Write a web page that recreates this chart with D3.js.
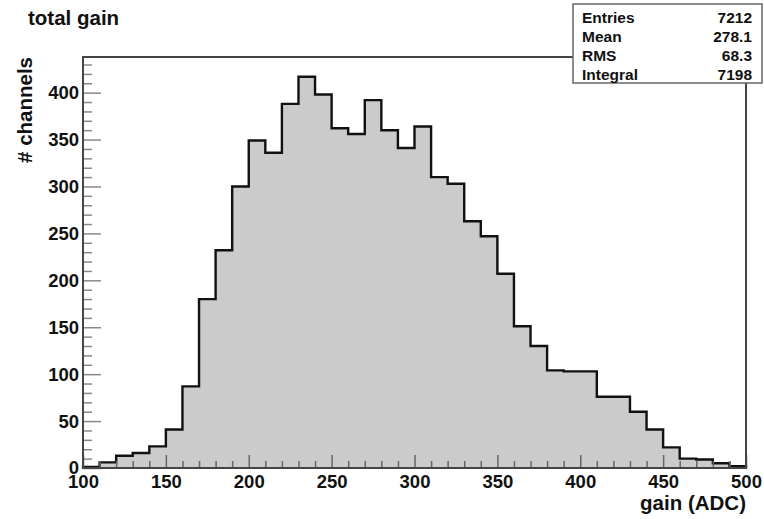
<!DOCTYPE html>
<html>
<head>
<meta charset="utf-8">
<script src="https://cdn.jsdelivr.net/npm/d3@7"></script>
<style>
  html, body { margin: 0; padding: 0; background: #fff; }
  svg { display: block; font-family: "Liberation Sans", Arial, Helvetica, sans-serif; font-weight: bold; }
</style>
</head>
<body>
<svg id="chart" width="764" height="519"></svg>
<script>
// Histogram of total gain per channel: 40 bins of width 10 ADC from 100 to 500
const binLow = 100;
const binWidth = 10;
const counts = [
  1, 6, 13, 16, 23, 41, 87, 180, 232, 300,
  349, 336, 388, 417, 398, 362, 356, 392, 360, 341,
  364, 310, 303, 263, 247, 207, 151, 130, 104, 103,
  103, 76, 76, 60, 41, 22, 10, 9, 5, 2
];
const xTicks = [100, 150, 200, 250, 300, 350, 400, 450, 500];
const yTicks = [0, 50, 100, 150, 200, 250, 300, 350, 400];
const statLabels = ["Entries", "Mean", "RMS", "Integral"];
const statValues = ["7212", "278.1", "68.3", "7198"];

const svg = d3.select("#chart");
const frame = { left: 83, right: 746, top: 57, bottom: 468 };

const x = d3.scaleLinear().domain([100, 500]).range([frame.left, frame.right]);
const y = d3.scaleLinear().domain([0, 438]).range([frame.bottom, frame.top]);

// step outline of the histogram
const pts = [[binLow, 0]];
counts.forEach((c, i) => {
  pts.push([binLow + i * binWidth, c]);
  pts.push([binLow + (i + 1) * binWidth, c]);
});
pts.push([binLow + counts.length * binWidth, 0]);

svg.append("path")
  .datum(pts)
  .attr("fill", "#cbcbcb")
  .attr("d", d3.area().x(d => x(d[0])).y0(y(0)).y1(d => y(d[1])));

svg.append("path")
  .datum(pts)
  .attr("fill", "none")
  .attr("stroke", "#111")
  .attr("stroke-width", 2.4)
  .attr("stroke-linejoin", "miter")
  .attr("d", d3.line().x(d => x(d[0])).y(d => y(d[1])));

// y axis ticks (major every 50, minor every 10)
const yAxis = d3.axisRight(y)
  .tickValues(d3.range(0, 431, 10))
  .tickSize(0)
  .tickFormat("");
const yg = svg.append("g").attr("transform", `translate(${frame.left},0)`).call(yAxis);
yg.select(".domain").remove();
yg.selectAll(".tick line")
  .attr("x2", d => d % 50 === 0 ? 18 : 9)
  .attr("stroke", "#888")
  .attr("stroke-width", 1.5);

// y tick labels
const yLab = d3.axisLeft(y).tickValues(yTicks).tickSize(0).tickPadding(4);
const yl = svg.append("g").attr("transform", `translate(${frame.left},0)`).call(yLab);
yl.select(".domain").remove();
yl.selectAll("text")
  .attr("font-size", 18.5)
  .attr("font-family", "Liberation Sans, Arial, sans-serif")
  .attr("font-weight", "bold")
  .attr("fill", "#111");

// x axis ticks (major every 50, minor every 10)
const xAxis = d3.axisTop(x)
  .tickValues(d3.range(100, 501, 10))
  .tickSize(0)
  .tickFormat("");
const xg = svg.append("g").attr("transform", `translate(0,${frame.bottom})`).call(xAxis);
xg.select(".domain").remove();
xg.selectAll(".tick line")
  .attr("y2", d => d % 50 === 0 ? -13 : -7)
  .attr("stroke", "#666")
  .attr("stroke-width", 1.5);

// x tick labels
const xLab = d3.axisBottom(x).tickValues(xTicks).tickSize(0).tickPadding(7);
const xl = svg.append("g").attr("transform", `translate(0,${frame.bottom})`).call(xLab);
xl.select(".domain").remove();
xl.selectAll("text")
  .attr("font-size", 18.5)
  .attr("font-family", "Liberation Sans, Arial, sans-serif")
  .attr("font-weight", "bold")
  .attr("fill", "#111");

// plot frame
svg.append("rect")
  .attr("x", frame.left)
  .attr("y", frame.top)
  .attr("width", frame.right - frame.left)
  .attr("height", frame.bottom - frame.top)
  .attr("fill", "none")
  .attr("stroke", "#444")
  .attr("stroke-width", 2);

// axis titles
svg.append("text")
  .attr("x", frame.right)
  .attr("y", 510)
  .attr("text-anchor", "end")
  .attr("font-size", 20.5)
  .attr("fill", "#111")
  .text("gain (ADC)");

svg.append("text")
  .attr("transform", `translate(32,${frame.top}) rotate(-90)`)
  .attr("text-anchor", "end")
  .attr("font-size", 20.5)
  .attr("fill", "#111")
  .text("# channels");

// title
svg.append("text")
  .attr("x", 28)
  .attr("y", 25)
  .attr("font-size", 20.5)
  .attr("fill", "#111")
  .text("total gain");

// statistics box
const box = svg.append("g");
box.append("rect")
  .attr("x", 573).attr("y", 4)
  .attr("width", 189).attr("height", 79)
  .attr("fill", "#fff")
  .attr("stroke", "#666")
  .attr("stroke-width", 1.5);
statLabels.forEach((lab, i) => {
  const by = 23 + i * 19;
  box.append("text").attr("x", 582).attr("y", by)
    .attr("font-size", 15.5).attr("fill", "#111").text(lab);
  box.append("text").attr("x", 752).attr("y", by)
    .attr("text-anchor", "end")
    .attr("font-size", 15.5).attr("fill", "#111").text(statValues[i]);
});
</script>
</body>
</html>
